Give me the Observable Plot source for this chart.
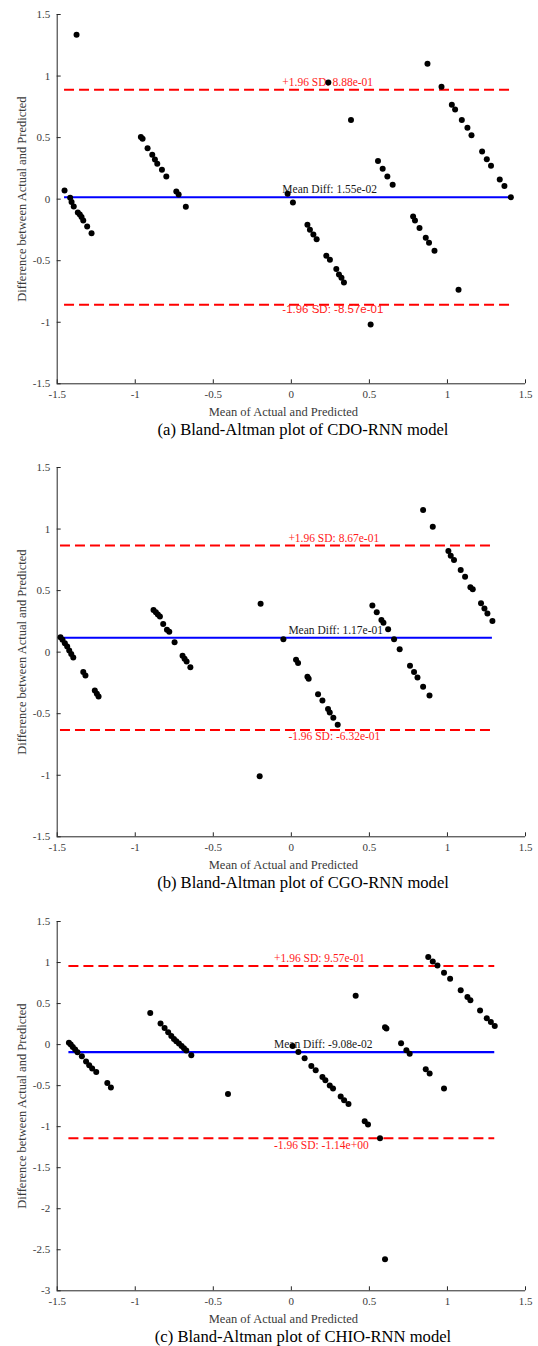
<!DOCTYPE html>
<html>
<head>
<meta charset="utf-8">
<script src="https://cdn.jsdelivr.net/npm/d3@7"></script>
<script src="https://cdn.jsdelivr.net/npm/@observablehq/plot@0.6"></script>
<style>
  html, body { margin: 0; padding: 0; background: #fff; }
  #figure { position: relative; width: 538px; height: 1346px; }
  .panel { position: absolute; left: 0; width: 538px; }
  .panel svg { display: block; }
  .caption {
    font-family: "Liberation Serif", "Times New Roman", serif;
    font-size: 16.6px; color: #000; line-height: 20px; height: 20px;
    box-sizing: border-box; width: 538px; padding-left: 68px;
    text-align: center; white-space: nowrap;
  }
</style>
</head>
<body>
<div id="figure"></div>
<script>
// Bland-Altman points: mean of actual and predicted (x) vs. their difference (y)
const cdoMean = [-1.376,-1.453,-1.417,-1.408,-1.394,-1.368,-1.355,-1.344,-1.333,-1.308,-1.280,
  -0.964,-0.953,-0.921,-0.891,-0.874,-0.859,-0.829,-0.801,-0.737,-0.722,-0.676,
  -0.024,0.010,0.103,0.119,0.141,0.162,0.224,0.247,0.288,0.305,0.321,0.337,0.237,0.382,0.508,
  0.555,0.585,0.615,0.649,0.780,0.792,0.821,0.861,0.882,0.917,
  0.872,0.962,1.028,1.049,1.092,1.128,1.154,1.222,1.252,1.279,1.335,1.365,1.406,1.071];
const cdoDiff = [1.335,0.071,0.011,-0.024,-0.059,-0.108,-0.124,-0.146,-0.173,-0.222,-0.276,
  0.504,0.490,0.414,0.361,0.322,0.287,0.239,0.184,0.063,0.038,-0.062,
  0.044,-0.027,-0.208,-0.249,-0.287,-0.325,-0.460,-0.492,-0.568,-0.612,-0.639,-0.677,0.948,0.642,-1.018,
  0.309,0.247,0.184,0.117,-0.141,-0.173,-0.235,-0.314,-0.354,-0.419,
  1.100,0.913,0.767,0.729,0.642,0.580,0.520,0.387,0.325,0.271,0.160,0.106,0.016,-0.736];

const cgoMean = [-1.479,-1.466,-1.451,-1.436,-1.423,-1.410,-1.397,-1.333,-1.319,-1.259,-1.246,-1.235,
  -0.883,-0.868,-0.855,-0.842,-0.821,-0.797,-0.782,-0.748,-0.697,-0.684,-0.671,-0.647,
  -0.197,-0.203,
  -0.051,0.030,0.043,0.103,0.111,0.171,0.199,0.235,0.246,0.269,0.297,
  0.519,0.547,0.577,0.590,0.620,0.658,0.694,0.760,0.786,0.808,0.844,0.885,
  0.844,0.906,1.006,1.021,1.042,1.085,1.113,1.147,1.162,1.215,1.237,1.256,1.288];
const cgoDiff = [0.122,0.100,0.073,0.046,0.013,-0.016,-0.043,-0.162,-0.190,-0.311,-0.338,-0.360,
  0.343,0.324,0.305,0.289,0.229,0.181,0.165,0.081,-0.030,-0.054,-0.076,-0.122,
  0.394,-1.009,
  0.105,-0.062,-0.089,-0.200,-0.217,-0.341,-0.392,-0.462,-0.490,-0.533,-0.590,
  0.378,0.324,0.262,0.238,0.186,0.105,0.024,-0.111,-0.162,-0.206,-0.281,-0.352,
  1.154,1.019,0.822,0.784,0.749,0.667,0.613,0.527,0.511,0.397,0.354,0.313,0.254];

const chioMean = [-1.425,-1.413,-1.400,-1.385,-1.370,-1.342,-1.315,-1.295,-1.276,-1.250,-1.179,-1.156,
  -0.904,-0.838,-0.812,-0.789,-0.769,-0.752,-0.737,-0.720,-0.703,-0.688,-0.673,-0.641,
  -0.406,
  0.008,0.045,0.085,0.128,0.156,0.199,0.218,0.246,0.267,0.316,0.338,0.366,0.470,0.491,0.568,
  0.412,0.600,0.609,0.600,
  0.703,0.737,0.758,0.861,0.886,0.978,
  0.877,0.906,0.936,0.978,1.017,1.085,1.128,1.147,1.209,1.252,1.278,1.303];
const chioDiff = [0.024,0.000,-0.029,-0.061,-0.094,-0.142,-0.207,-0.252,-0.292,-0.333,-0.467,-0.523,
  0.385,0.256,0.203,0.150,0.105,0.068,0.040,0.012,-0.017,-0.045,-0.073,-0.130,
  -0.601,
  -0.017,-0.090,-0.167,-0.260,-0.313,-0.394,-0.435,-0.499,-0.536,-0.633,-0.678,-0.723,-0.934,-0.974,-1.141,
  0.596,0.211,0.195,-2.617,
  0.016,-0.069,-0.110,-0.301,-0.353,-0.536,
  1.066,1.014,0.965,0.876,0.803,0.661,0.579,0.539,0.414,0.320,0.275,0.226];

// Bias and limits of agreement (mean ± 1.96 SD) for each model
const models = ["CDO-RNN", "CGO-RNN", "CHIO-RNN"];
const panelTags = ["(a)", "(b)", "(c)"];
const meanDiff = [0.0155, 0.117, -0.0908];
const upperLoA = [0.888, 0.867, 0.957];
const lowerLoA = [-0.857, -0.632, -1.14];

// Axis ticks
const xTicks = [-1.5, -1, -0.5, 0, 0.5, 1, 1.5];
const yTicksAB = [-1.5, -1, -0.5, 0, 0.5, 1, 1.5];
const yTicksC = [-3, -2.5, -2, -1.5, -1, -0.5, 0, 0.5, 1, 1.5];

const xLabel = "Mean of Actual and Predicted";
const yLabel = "Difference between Actual and Predicted";

// MATLAB-style exponent notation, e.g. 8.88e-01
function sci(v) {
  const [m, e] = v.toExponential(2).split("e");
  const n = Math.abs(+e);
  return m + "e" + (+e < 0 ? "-" : "+") + (n < 10 ? "0" + n : String(n));
}
const tickFmt = d => String(d);

const SERIF = "'Liberation Serif', 'Times New Roman', serif";
const SANS = "'Liberation Sans', Arial, sans-serif";

const panels = [
  {xs: cdoMean, ys: cdoDiff, yDomain: [-1.5, 1.5], yTicks: yTicksAB, labelX: -0.058, top: 0, lowerFont: SANS, lowerDy: 5},
  {xs: cgoMean, ys: cgoDiff, yDomain: [-1.5, 1.5], yTicks: yTicksAB, labelX: -0.019, top: 453.3, lowerFont: SERIF, lowerDy: 6.5},
  {xs: chioMean, ys: chioDiff, yDomain: [-3, 1.5], yTicks: yTicksC, labelX: -0.111, top: 907, lowerFont: SERIF, lowerDy: 7}
];

const figure = document.getElementById("figure");

panels.forEach((p, i) => {
  const pts = p.xs.map((x, j) => ({x, y: p.ys[j]}));
  const x1 = d3.min(p.xs), x2 = d3.max(p.xs);
  const limit = v => [{y: v, x1, x2}];

  const chart = Plot.plot({
    width: 538,
    height: 420,
    marginLeft: 56.7,
    marginRight: 13,
    marginTop: 14,
    marginBottom: 36.7,
    style: {fontFamily: SERIF, fontSize: "11px", color: "#3a3a3a", background: "#fff", overflow: "visible"},
    x: {domain: [-1.5, 1.5]},
    y: {domain: p.yDomain},
    marks: [
      Plot.axisX({ticks: xTicks, tickFormat: tickFmt, tickSize: -4, tickPadding: 10, label: null, stroke: "#262626"}),
      Plot.axisY({ticks: p.yTicks, tickFormat: tickFmt, tickSize: -4, tickPadding: 11, label: null, stroke: "#262626"}),
      Plot.ruleX([-1.5], {stroke: "#262626", strokeWidth: 1}),
      Plot.ruleY([p.yDomain[0]], {stroke: "#262626", strokeWidth: 1}),
      // limits of agreement and mean difference
      Plot.ruleY(limit(upperLoA[i]), {y: "y", x1: "x1", x2: "x2", stroke: "#ff0000", strokeWidth: 2, strokeDasharray: "10,5"}),
      Plot.ruleY(limit(lowerLoA[i]), {y: "y", x1: "x1", x2: "x2", stroke: "#ff0000", strokeWidth: 2, strokeDasharray: "10,5"}),
      Plot.ruleY(limit(meanDiff[i]), {y: "y", x1: "x1", x2: "x2", stroke: "#0000ff", strokeWidth: 2.2}),
      Plot.text([upperLoA[i]], {x: p.labelX, y: d => d, text: d => "+1.96 SD: " + sci(d), textAnchor: "start", dy: -7.5, fill: "#ff1a1a", fontSize: 11.5, fontFamily: SERIF}),
      Plot.text([lowerLoA[i]], {x: p.labelX, y: d => d, text: d => "-1.96 SD: " + sci(d), textAnchor: "start", dy: p.lowerDy, fill: "#ff1a1a", fontSize: 11.5, fontFamily: p.lowerFont}),
      Plot.text([meanDiff[i]], {x: p.labelX, y: d => d, text: d => "Mean Diff: " + sci(d), textAnchor: "start", dy: -7.5, fill: "#1a1a1a", fontSize: 11.5, fontFamily: SERIF}),
      // observations
      Plot.dot(pts, {x: "x", y: "y", r: 3, fill: "#000", stroke: null}),
      // axis titles
      Plot.text([xLabel], {frameAnchor: "bottom", text: d => d, textAnchor: "middle", lineAnchor: "middle", dy: 28.4, dx: -8, fontSize: 12.5, fill: "#3a3a3a"}),
      Plot.text([yLabel], {frameAnchor: "left", text: d => d, textAnchor: "middle", lineAnchor: "middle", rotate: -90, dx: -35, fontSize: 12.5, fill: "#3a3a3a"})
    ]
  });

  const wrap = document.createElement("div");
  wrap.className = "panel";
  wrap.style.top = p.top + "px";
  wrap.appendChild(chart);
  const cap = document.createElement("div");
  cap.className = "caption";
  cap.textContent = panelTags[i] + " Bland-Altman plot of " + models[i] + " model";
  wrap.appendChild(cap);
  figure.appendChild(wrap);
});
</script>
</body>
</html>
